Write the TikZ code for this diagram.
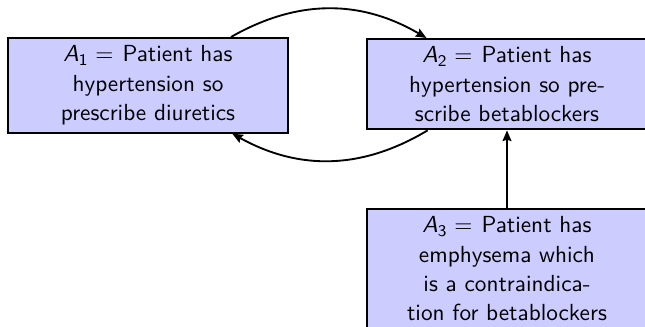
\documentclass[tikz,border=0pt]{standalone}
\usetikzlibrary{arrows.meta}
\renewcommand{\familydefault}{\sfdefault}
\tikzset{
  argbox/.style={draw=black, thick, fill=blue!20, text width=4cm, align=center,
    inner sep=3.33pt, font=\sffamily\fontsize{10}{12.6}\selectfont, anchor=north},
  argarrow/.style={thick, -{Stealth[length=4.6pt,width=3.8pt,inset=0.6pt]}}
}
\newcommand{\argA}[1]{{\itshape A}\raisebox{-1.5pt}{\fontsize{7}{8}\selectfont #1}\hspace{3.3pt}=\hspace{0.6pt}}
\begin{document}
\begin{tikzpicture}[x=0.43pt, y=-0.43pt]
\useasboundingbox (0,0) rectangle (645,327);
\node[argbox] (A1) at (148,37) {\argA{1} Patient has\\ hypertension so\\ prescribe diuretics};
\node[argbox] (A2) at (507,38) {\argA{2} Patient has\\ hypertension so pre-\\ scribe betablockers};
\node[argbox] (A3) at (507,208) {\argA{3} Patient has\\ emphysema which\\ is a contraindica-\\ tion for betablockers};
\draw[argarrow] (A1) to[bend left=30] (A2);
\draw[argarrow] (A2) to[bend left=30] (A1);
\draw[argarrow] (A3) -- (A2);
\end{tikzpicture}
\end{document}
